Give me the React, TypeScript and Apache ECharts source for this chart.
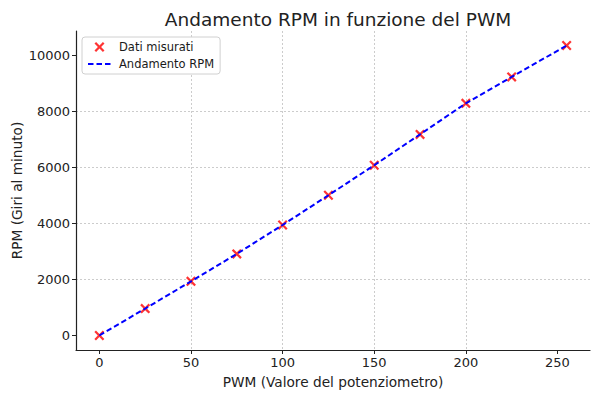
import React, { useEffect, useRef } from "react";
import * as echarts from "echarts";

const pwm = [0, 25, 50, 75, 100, 125, 150, 175, 200, 225, 255];
const rpmMeasured = [0, 960, 1930, 2910, 3940, 5000, 6070, 7170, 8280, 9220, 10340];
const rpmTrend = [0, 960, 1930, 2910, 3940, 5000, 6070, 7170, 8280, 9220, 10340];
const xTicks = [0, 50, 100, 150, 200, 250];
const yTicks = [0, 2000, 4000, 6000, 8000, 10000];

const X_ICON =
  "path://M0,1.6L1.6,0L5,3.4L8.4,0L10,1.6L6.6,5L10,8.4L8.4,10L5,6.6L1.6,10L0,8.4L3.4,5Z";

export default function App() {
  const ref = useRef<HTMLDivElement>(null);
  useEffect(() => {
    document.body.style.margin = "0";
    const chart = echarts.init(ref.current!, null, { renderer: "svg" });
    const font = "DejaVu Sans";
    const xPad = (pwm[pwm.length - 1] - pwm[0]) * 0.05;
    const yMaxV = Math.max(...rpmMeasured);
    const yMinV = Math.min(...rpmMeasured);
    const yPad = (yMaxV - yMinV) * 0.05;
    const gridLine = { show: true, showMinLine: false, showMaxLine: false, lineStyle: { color: "#cccccc", type: [2, 2], width: 1 } };
    chart.setOption({
      animation: false,
      backgroundColor: "#ffffff",
      textStyle: { fontFamily: font },
      title: {
        text: "Andamento RPM in funzione del PWM",
        left: 333,
        top: 5,
        textAlign: "center",
        textStyle: { fontFamily: font, fontSize: 18.5, fontWeight: "normal", color: "#222" },
      },
      legend: {
        orient: "vertical",
        left: 82,
        top: 37,
        padding: [4, 6, 4, 5],
        itemGap: 5,
        itemWidth: 23,
        itemHeight: 10,
        backgroundColor: "#fff",
        borderColor: "#d0d0d0",
        borderWidth: 1,
        borderRadius: 3,
        textStyle: { fontFamily: font, fontSize: 11.5, color: "#1a1a1a", padding: [0, 0, 0, 3] },
        data: [
          { name: "Dati misurati", icon: X_ICON, itemStyle: { color: "#ff0000" } },
          { name: "Andamento RPM", itemStyle: { opacity: 0 } },
        ],
      },
      grid: { left: 76, right: 10, top: 31, bottom: 43, containLabel: false, outerBoundsMode: "none" },
      xAxis: {
        type: "value",
        min: pwm[0] - xPad,
        max: pwm[pwm.length - 1] + xPad,
        name: "PWM (Valore del potenziometro)",
        nameLocation: "middle",
        nameGap: 25,
        nameMoveOverlap: false,
        nameTextStyle: { fontFamily: font, fontSize: 13.7, color: "#222" },
        axisLine: { show: true, onZero: false, lineStyle: { color: "#222", width: 1.2 } },
        axisTick: { show: true, length: 4, customValues: xTicks, lineStyle: { color: "#222", width: 1 } },
        axisLabel: { customValues: xTicks, fontFamily: font, fontSize: 13, color: "#222", margin: 6, formatter: (v: number) => String(v) },
        splitLine: gridLine,
      },
      yAxis: {
        type: "value",
        min: yMinV - yPad,
        max: yMaxV + yPad,
        name: "RPM (Giri al minuto)",
        nameLocation: "middle",
        nameGap: 52,
        nameRotate: 90,
        nameMoveOverlap: false,
        nameTextStyle: { fontFamily: font, fontSize: 13.7, color: "#222" },
        axisLine: { show: true, onZero: false, lineStyle: { color: "#222", width: 1.2 } },
        axisTick: { show: true, length: 4, customValues: yTicks, lineStyle: { color: "#222", width: 1 } },
        axisLabel: { customValues: yTicks, fontFamily: font, fontSize: 13, color: "#222", margin: 6, formatter: (v: number) => String(v) },
        splitLine: gridLine,
      },
      series: [
        {
          name: "Dati misurati",
          type: "scatter",
          symbol: X_ICON,
          symbolSize: 10,
          itemStyle: { color: "#ff0000" },
          data: pwm.map((x, i) => [x, rpmMeasured[i]]),
          z: 2,
        },
        {
          name: "Andamento RPM",
          type: "line",
          showSymbol: false,
          symbol: "none",
          lineStyle: { color: "#0000ff", width: 2, type: [5.5, 3] },
          itemStyle: { color: "#0000ff" },
          data: pwm.map((x, i) => [x, rpmTrend[i]]),
          z: 3,
        },
      ],
    });
    return () => chart.dispose();
  }, []);
  return <div ref={ref} style={{ width: 600, height: 393 }} />;
}
